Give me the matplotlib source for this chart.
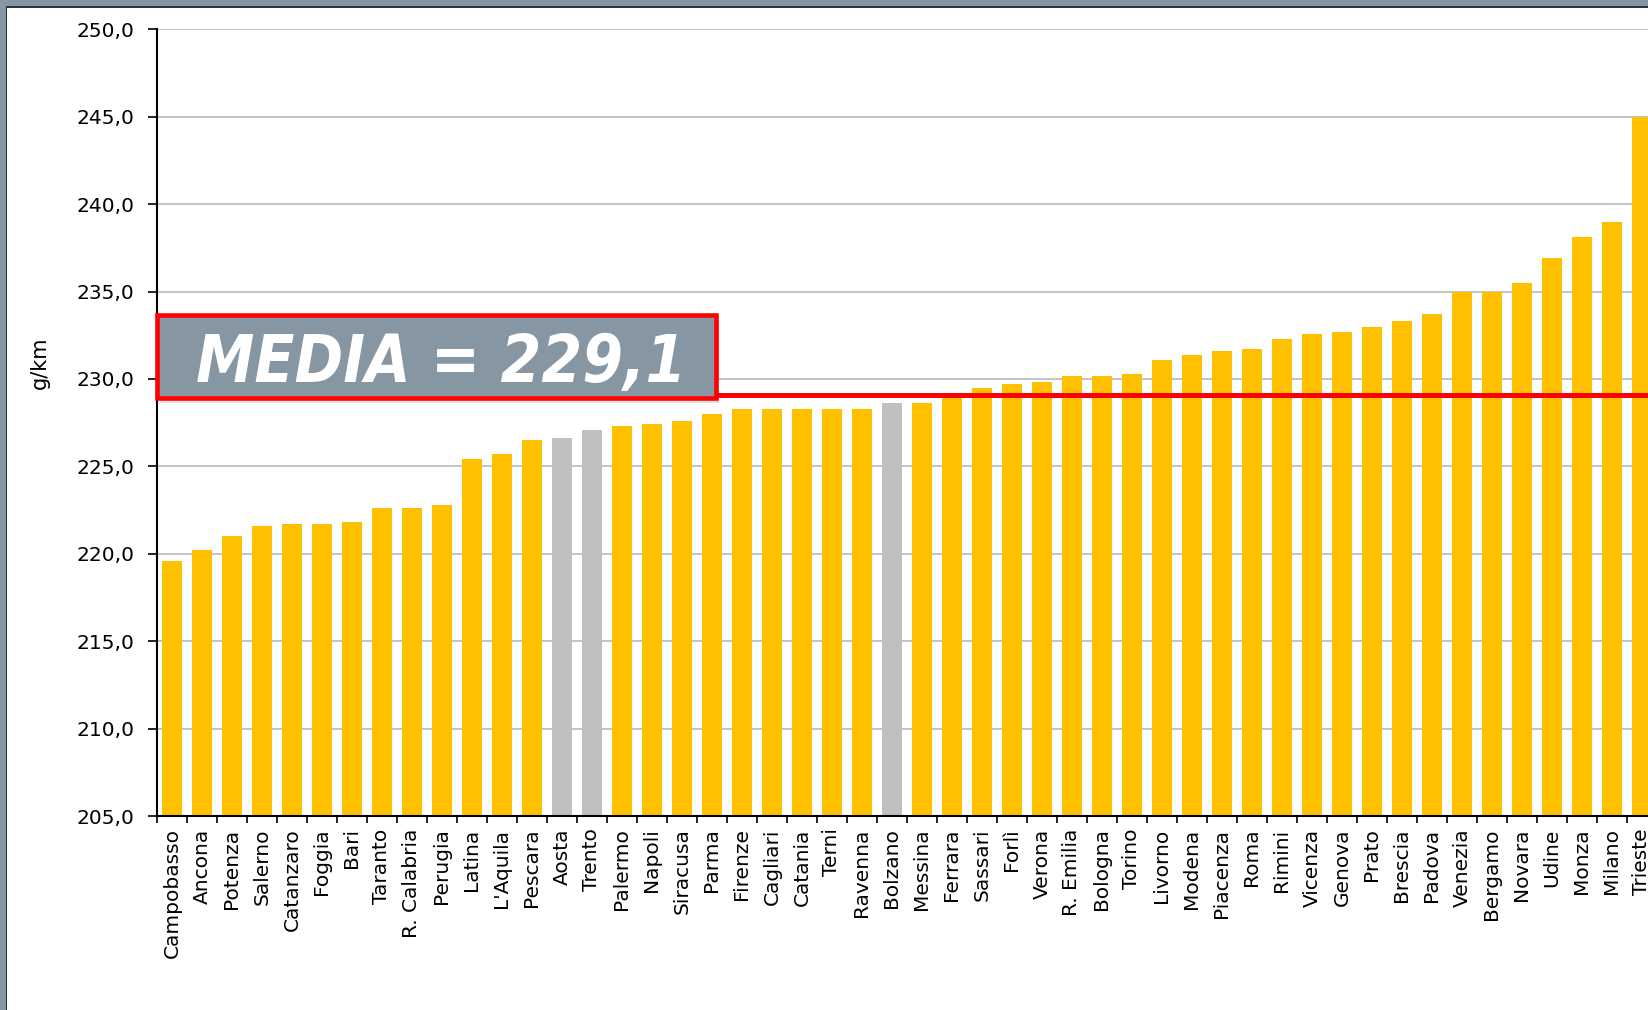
import numpy as np
import matplotlib
matplotlib.use("Agg")
import matplotlib.pyplot as plt
from matplotlib.patches import Rectangle

# data (g/km, sorted ascending)
cities = [
    "Campobasso", "Ancona", "Potenza", "Salerno", "Catanzaro", "Foggia", "Bari",
    "Taranto", "R. Calabria", "Perugia", "Latina", "L'Aquila", "Pescara", "Aosta",
    "Trento", "Palermo", "Napoli", "Siracusa", "Parma", "Firenze", "Cagliari",
    "Catania", "Terni", "Ravenna", "Bolzano", "Messina", "Ferrara", "Sassari",
    "Forlì", "Verona", "R. Emilia", "Bologna", "Torino", "Livorno", "Modena",
    "Piacenza", "Roma", "Rimini", "Vicenza", "Genova", "Prato", "Brescia",
    "Padova", "Venezia", "Bergamo", "Novara", "Udine", "Monza", "Milano", "Trieste",
]
values = [
    219.6, 220.2, 221.0, 221.6, 221.7, 221.7, 221.8, 222.6, 222.6, 222.8,
    225.4, 225.7, 226.5, 226.6, 227.1, 227.3, 227.4, 227.6, 228.0, 228.3,
    228.3, 228.3, 228.3, 228.3, 228.6, 228.6, 229.0, 229.5, 229.7, 229.8,
    230.2, 230.2, 230.3, 231.1, 231.4, 231.6, 231.7, 232.3, 232.6, 232.7,
    233.0, 233.3, 233.7, 235.0, 235.0, 235.5, 236.9, 238.1, 239.0, 245.0,
]
grey_cities = ["Aosta", "Trento", "Bolzano"]
media = 229.1
y_ticks = [205, 210, 215, 220, 225, 230, 235, 240, 245, 250]
y_label = "g/km"

W, H = 1649, 1010
YELLOW = "#FFC000"
GREY = "#BFBFBF"
SLATE = "#8696A3"

fig = plt.figure(figsize=(W / 100, H / 100), dpi=100)
fig.patch.set_facecolor("white")

# axes run past the right edge, the reference is cropped there
ax = fig.add_axes([157 / W, 194 / H, 1500 / W, 786.6 / H])

x = np.arange(len(cities))
colors = [GREY if c in grey_cities else YELLOW for c in cities]
ax.bar(x, np.array(values) - y_ticks[0], bottom=y_ticks[0], width=0.64,
       color=colors, zorder=2)

ax.axhline(media, color="#FF0000", lw=3.6, zorder=3)

ax.set_xlim(-0.5, len(cities) - 0.5)
ax.set_ylim(y_ticks[0], y_ticks[-1])
ax.set_yticks(y_ticks)
ax.set_yticklabels([f"{v:.1f}".replace(".", ",") for v in y_ticks], fontsize=14.5)
ax.yaxis.grid(True, color="#C4C4C4", lw=1.4, zorder=1)
ax.set_axisbelow(True)

ax.set_xticks(x)
ax.set_xticklabels(cities, rotation=90, fontsize=14.5, va="top")
ax.set_xticks(np.arange(-0.5, len(cities), 1), minor=True)
ax.tick_params(axis="x", which="major", length=0, pad=9)
ax.tick_params(axis="x", which="minor", length=5, width=1.2, color="black")
ax.tick_params(axis="y", length=6.5, width=1.2, pad=10)

for s in ["top", "right"]:
    ax.spines[s].set_visible(False)
for s in ["left", "bottom"]:
    ax.spines[s].set_linewidth(1.5)
    ax.spines[s].set_color("black")

fig.text(40 / W, 1 - 363 / H, y_label, rotation=90, ha="center", va="center",
         fontsize=15)

# MEDIA box
shadow = Rectangle((160 / W, 1 - 403 / H), 559 / W, 83 / H,
                   transform=fig.transFigure, facecolor="#000000", alpha=0.12,
                   edgecolor="none", zorder=9)
fig.add_artist(shadow)
box = Rectangle((156.8 / W, 1 - 398.4 / H), 559.6 / W, 82.9 / H,
                transform=fig.transFigure, facecolor=SLATE, edgecolor="#FF0000",
                linewidth=3.3, zorder=10)
fig.add_artist(box)
fig.text(441 / W, 1 - 382 / H, f"MEDIA = {media:.1f}".replace(".", ","),
         ha="center", va="baseline", color="white", fontsize=47,
         fontweight="bold", fontstyle="italic", fontstretch="condensed",
         family="DejaVu Sans", zorder=11)

# slate frame on top and left edges
fig.add_artist(Rectangle((0, 1 - 6 / H), 1, 6 / H, transform=fig.transFigure,
                         facecolor=SLATE, edgecolor="none", zorder=20))
fig.add_artist(Rectangle((0, 1 - 7.5 / H), 1, 1.5 / H, transform=fig.transFigure,
                         facecolor="#333333", edgecolor="none", zorder=20))
fig.add_artist(Rectangle((0, 0), 6 / W, 1, transform=fig.transFigure,
                         facecolor=SLATE, edgecolor="none", zorder=21))
fig.add_artist(Rectangle((6 / W, 0), 1.5 / W, 1 - 6 / H, transform=fig.transFigure,
                         facecolor="#333333", edgecolor="none", zorder=21))

fig.savefig("out.png", dpi=100)
